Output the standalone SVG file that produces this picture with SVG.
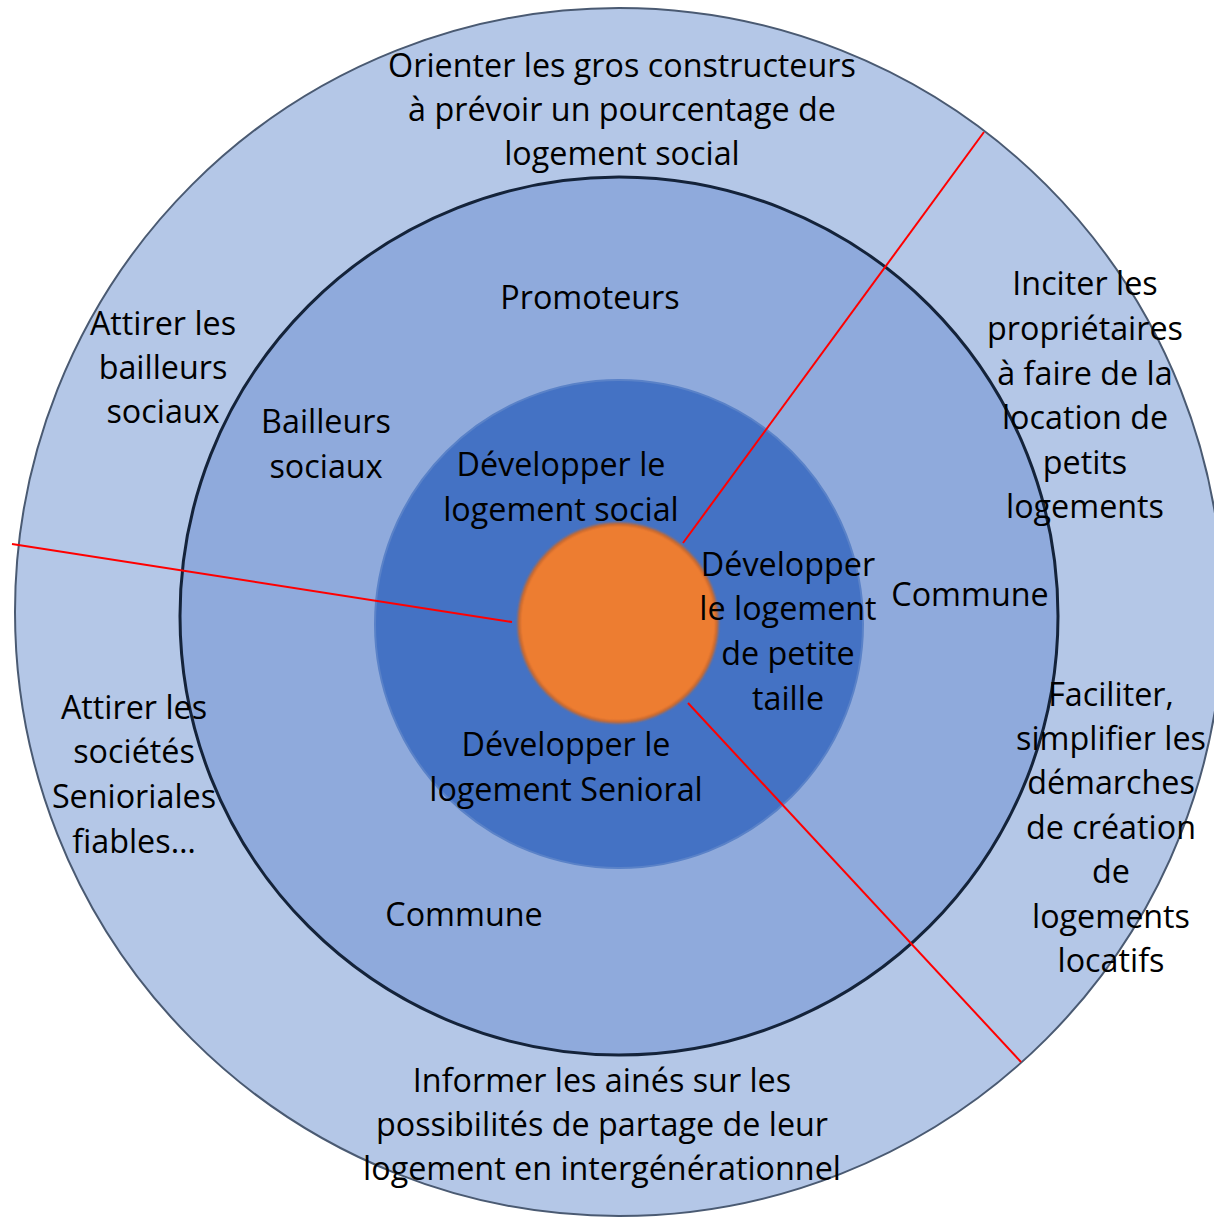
<svg xmlns="http://www.w3.org/2000/svg" width="1214" height="1218" viewBox="0 0 1214 1218">
<defs>
<style>
text{font-family:"Open Sans","Liberation Sans",sans-serif;font-size:32.3px;fill:#000;text-anchor:middle}
.ring1{fill:#b4c7e7;stroke:#4a5a72;stroke-width:2}
.ring2{fill:#8faadc;stroke:#14233a;stroke-width:3}
.ring3{fill:#4472c4;stroke:#5a82c8;stroke-width:2}
.core{fill:#ed7d31;stroke:#c9692d;stroke-width:3}
.sep{stroke:#ff0000;stroke-width:2;fill:none}
</style>
<filter id="soft" x="-10%" y="-10%" width="120%" height="120%"><feGaussianBlur stdDeviation="1.2"/></filter>
</defs>
<rect width="1214" height="1218" fill="#ffffff"/>
<g id="outer-ring"><circle class="ring1" cx="619" cy="612" r="604"/></g>
<g id="middle-ring"><circle class="ring2" cx="619" cy="616" r="439"/></g>
<g id="inner-ring"><circle class="ring3" cx="619" cy="624" r="244"/></g>
<g id="core"><circle class="core" cx="618" cy="623" r="99" filter="url(#soft)"/><circle cx="618" cy="623" r="96" fill="#ed7d31"/></g>
<g id="connectors">
<line class="sep" x1="12" y1="544" x2="512" y2="622"/>
<line class="sep" x1="683" y1="543" x2="984" y2="132"/>
<line class="sep" x1="688" y1="703" x2="1021" y2="1062"/>
</g>
<g id="label-top">
<text x="622" y="77">Orienter les gros constructeurs</text>
<text x="622" y="121">à prévoir un pourcentage de</text>
<text x="622" y="165">logement social</text>
</g>
<g id="label-attirer-bailleurs">
<text x="163" y="335">Attirer les</text>
<text x="163" y="379">bailleurs</text>
<text x="163" y="423">sociaux</text>
</g>
<g id="label-bailleurs">
<text x="326" y="433">Bailleurs</text>
<text x="326" y="478">sociaux</text>
</g>
<g id="label-promoteurs"><text x="590" y="309">Promoteurs</text></g>
<g id="label-dev-social">
<text x="561" y="476">Développer le</text>
<text x="561" y="521">logement social</text>
</g>
<g id="label-dev-petite">
<text x="788" y="576">Développer</text>
<text x="788" y="620">le logement</text>
<text x="788" y="665">de petite</text>
<text x="788" y="710">taille</text>
</g>
<g id="label-commune-right"><text x="970" y="606">Commune</text></g>
<g id="label-inciter">
<text x="1085" y="295">Inciter les</text>
<text x="1085" y="340">propriétaires</text>
<text x="1085" y="385">à faire de la</text>
<text x="1085" y="429">location de</text>
<text x="1085" y="474">petits</text>
<text x="1085" y="518">logements</text>
</g>
<g id="label-faciliter">
<text x="1111" y="706">Faciliter,</text>
<text x="1111" y="750">simplifier les</text>
<text x="1111" y="794">démarches</text>
<text x="1111" y="839">de création</text>
<text x="1111" y="883">de</text>
<text x="1111" y="928">logements</text>
<text x="1111" y="972">locatifs</text>
</g>
<g id="label-attirer-societes">
<text x="134" y="719">Attirer les</text>
<text x="134" y="763">sociétés</text>
<text x="134" y="808">Senioriales</text>
<text x="134" y="853">fiables…</text>
</g>
<g id="label-dev-senioral">
<text x="566" y="756">Développer le</text>
<text x="566" y="801">logement Senioral</text>
</g>
<g id="label-commune-bottom"><text x="464" y="926">Commune</text></g>
<g id="label-bottom">
<text x="602" y="1092">Informer les ainés sur les</text>
<text x="602" y="1136">possibilités de partage de leur</text>
<text x="602" y="1180">logement en intergénérationnel</text>
</g>
</svg>
